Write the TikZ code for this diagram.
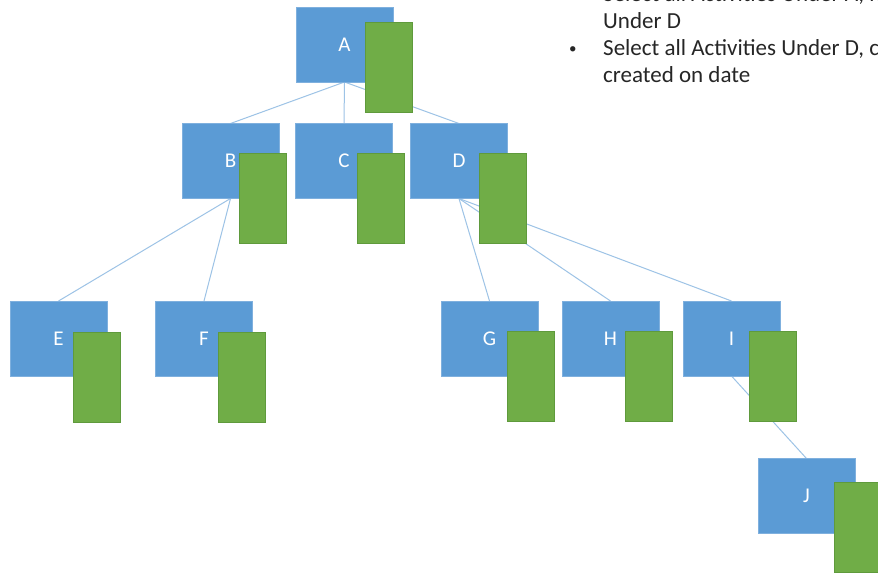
\documentclass[tikz,border=0pt]{standalone}
\usepackage{fontspec}
\setmainfont{Carlito}
\pgfdeclarelayer{bg}
\pgfdeclarelayer{lines}
\pgfsetlayers{bg,lines,main}
\definecolor{boxblue}{HTML}{5B9BD5}
\definecolor{boxblueedge}{HTML}{7FB0DE}
\definecolor{boxgreen}{HTML}{70AD47}
\definecolor{boxgreenedge}{HTML}{5F9A3C}
\definecolor{linkblue}{HTML}{9DC3E6}
\definecolor{txtgray}{HTML}{262626}
\tikzset{
  bluebox/.style={rectangle, fill=boxblue, draw=boxblueedge, line width=0.8pt,
    minimum width=97pt, minimum height=75pt, inner sep=0pt, outer sep=0pt,
    text=white, font=\fontsize{21}{24}\selectfont},
  greenbox/.style={rectangle, fill=boxgreen, draw=boxgreenedge, line width=0.6pt,
    minimum width=47pt, minimum height=90pt, inner sep=0pt, outer sep=0pt},
  link/.style={draw=linkblue, line width=1pt},
  note/.style={anchor=base west, inner sep=0pt, text=txtgray, font=\fontsize{23}{27}\selectfont}
}
\begin{document}
\begin{tikzpicture}[x=1pt,y=-1pt]
\useasboundingbox (0,0) rectangle (878,574);
\clip (0,0) rectangle (878,574);
\begin{pgfonlayer}{bg}
\fill[white] (0,0) rectangle (878,574);
\end{pgfonlayer}
% blue boxes
\node[bluebox] (a) at (344.5,44.5) {A};
\node[bluebox] (b) at (230.5,161) {B};
\node[bluebox] (c) at (344,161) {C};
\node[bluebox] (d) at (459,161) {D};
\node[bluebox] (e) at (58.5,338.5) {E};
\node[bluebox] (f) at (204,338.5) {F};
\node[bluebox] (g) at (489.5,338.5) {G};
\node[bluebox] (h) at (610.5,338.5) {H};
\node[bluebox] (i) at (731.5,338.5) {I};
\node[bluebox] (j) at (806.5,496) {J};
% green boxes
\node[greenbox] (ga) at (388.5,67.5) {};
\node[greenbox] (gb) at (263,198.5) {};
\node[greenbox] (gc) at (381,198.5) {};
\node[greenbox] (gd) at (502.5,198.5) {};
\node[greenbox] (ge) at (97,377.5) {};
\node[greenbox] (gf) at (242,377.5) {};
\node[greenbox] (gg) at (531,376.5) {};
\node[greenbox] (gh) at (648.5,376.5) {};
\node[greenbox] (gi) at (773,376) {};
\node[greenbox] (gj) at (857.5,527.5) {};
% connectors
\begin{pgfonlayer}{lines}
\draw[link] (a.south) -- (b.north);
\draw[link] (a.south) -- (c.north);
\draw[link] (a.south) -- (d.north);
\draw[link] (b.south) -- (e.north);
\draw[link] (b.south) -- (f.north);
\draw[link] (d.south) -- (g.north);
\draw[link] (d.south) -- (h.north);
\draw[link] (d.south) -- (i.north);
\draw[link] (i.south) -- (j.north);
\end{pgfonlayer}
% notes
\node[note] (t1) at (603,1) {Select all Activities Under A, not};
\node[note] (t2) at (603,28) {Under D};
\node[note, font=\fontsize{15}{18}\selectfont] (bul) at (569,53) {\textbullet};
\node[note] (t3) at (603,55) {Select all Activities Under D, created};
\node[note] (t4) at (603,82) {created on date};
\end{tikzpicture}
\end{document}
